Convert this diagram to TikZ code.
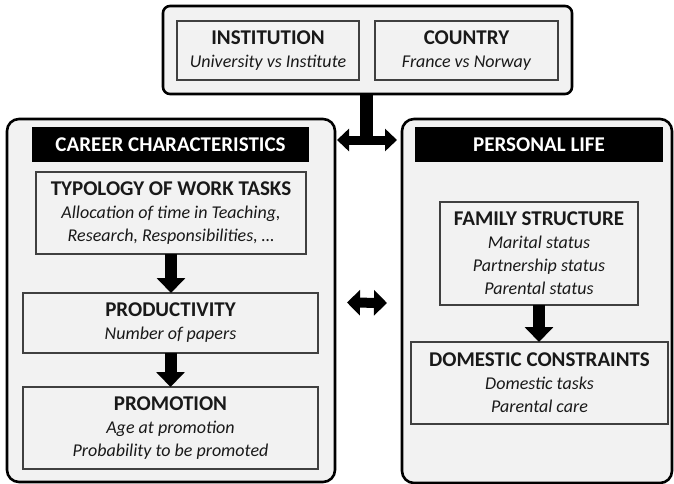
\documentclass[tikz,border=0pt]{standalone}
\usepackage{fontspec}
\setmainfont{Carlito}
\usepackage{tikz}
\usetikzlibrary{arrows.meta, positioning, calc}
\usepackage{xcolor}
\definecolor{panelfill}{RGB}{242,242,242}
\definecolor{boxline}{RGB}{64,64,64}
\definecolor{inktext}{RGB}{25,25,25}
\newcommand{\boxtitle}[1]{{\fontsize{21}{23}\selectfont\bfseries\upshape #1}}

\begin{document}
\begin{tikzpicture}[x=1pt, y=-1pt,
  panel/.style={draw=black, line width=2.6pt, fill=panelfill, rounded corners=12pt,
    inner sep=0pt, outer sep=0pt},
  factor/.style={draw=boxline, line width=1.6pt, fill=panelfill, align=center,
    inner sep=0pt, outer sep=0pt, text=inktext,
    font=\fontsize{18}{23}\selectfont\itshape},
  header/.style={fill=black, text=white, inner sep=0pt, outer sep=0pt,
    font=\fontsize{21}{23}\selectfont\bfseries},
  flow/.style={line width=12pt, -{Triangle[length=15pt, width=28pt]}},
  link/.style={line width=9pt, {Triangle[length=12pt, width=22pt]}-{Triangle[length=12pt, width=22pt]}},
  mutual/.style={line width=10pt, {Triangle[length=13pt, width=25pt]}-{Triangle[length=13pt, width=25pt]}}]
  \useasboundingbox[fill=white] (0,0) rectangle (674,484);

  % context at the top
  \node[panel, rounded corners=7pt, minimum width=409pt, minimum height=88pt] (context) at (367.5,50) {};
  \node[factor, minimum width=182pt, minimum height=59pt] (institution) at (268,50.5)
    {\boxtitle{INSTITUTION}\\University vs Institute};
  \node[factor, minimum width=183pt, minimum height=59pt] (country) at (466.5,50.5)
    {\boxtitle{COUNTRY}\\France vs Norway};

  % career side
  \node[panel, minimum width=328pt, minimum height=363pt] (career) at (171,300.5) {};
  \node[header, minimum width=277pt, minimum height=35pt] (careerhead) at (170.5,144.5) {CAREER CHARACTERISTICS};
  \node[factor, minimum width=270pt, minimum height=82pt] (typology) at (171,213)
    {\boxtitle{TYPOLOGY OF WORK TASKS}\\Allocation of time in Teaching,\\Research, Responsibilities, \dots};
  \node[factor, minimum width=295pt, minimum height=60pt] (productivity) at (170.5,323)
    {\boxtitle{PRODUCTIVITY}\\Number of papers};
  \node[factor, minimum width=295pt, minimum height=82pt] (promotion) at (170.5,428)
    {\boxtitle{PROMOTION}\\Age at promotion\\Probability to be promoted};

  % personal side
  \node[panel, minimum width=270pt, minimum height=364pt] (personal) at (537,301) {};
  \node[header, minimum width=248pt, minimum height=35pt] (personalhead) at (539,144.5) {PERSONAL LIFE};
  \node[factor, minimum width=198pt, minimum height=103pt] (family) at (539,253.5)
    {\boxtitle{FAMILY STRUCTURE}\\Marital status\\Partnership status\\Parental status};
  \node[factor, minimum width=257pt, minimum height=82pt] (domestic) at (539.5,383)
    {\boxtitle{DOMESTIC CONSTRAINTS}\\Domestic tasks\\Parental care};

  % arrows
  \coordinate (hub) at ([yshift=-46pt]context.south);
  \draw[line width=13pt] ([xshift=-1pt]context.south) -- ([xshift=-1pt]hub);
  \draw[link] ([xshift=2pt]career.east |- hub) -- ([xshift=-5pt]personal.west |- hub);
  \draw[mutual] ([xshift=12pt, yshift=-2pt]career.east) -- ([xshift=-15pt, yshift=-2pt]personal.west);
  \draw[flow] (typology.south) -- (typology.south |- productivity.north);
  \draw[flow] (productivity.south) -- (promotion.north);
  \draw[flow] (family.south) -- (family.south |- domestic.north);
\end{tikzpicture}
\end{document}
